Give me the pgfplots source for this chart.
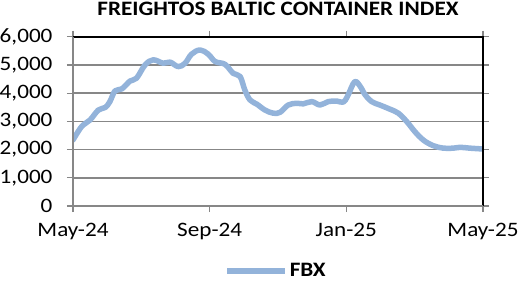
\documentclass[border=0pt]{standalone}
\usepackage{pgfplots}
\pgfplotsset{compat=1.18}
\usepackage{fontspec}
\setmainfont{Carlito}[FakeStretch=1.13]
\definecolor{fbx}{HTML}{93B3DA}
\definecolor{gridc}{HTML}{878787}
\begin{document}
\begin{tikzpicture}
\useasboundingbox (-73pt,-76pt) rectangle (447pt,206pt);
\begin{axis}[
  at={(0,0)}, anchor=south west,
  scale only axis, width=410pt, height=169.3pt,
  xmin=0, xmax=12, ymin=0, ymax=6000,
  xtick={0,4,8,12}, xticklabels={May-24,Sep-24,Jan-25,May-25},
  ytick={0,1000,2000,3000,4000,5000,6000},
  scaled y ticks=false,
  /pgf/number format/1000 sep={,},
  /pgf/number format/assume math mode=true,
  ymajorgrids, major grid style={draw=gridc, line width=1.5pt},
  axis line style={draw=none},
  tick align=outside, major tick length=6pt,
  tick style={draw=gridc, line width=1.2pt},
  ticklabel style={font=\fontsize{20.5}{24}\selectfont, text=black},
  yticklabel style={xshift=-11pt},
  xticklabel style={yshift=-8pt},
  title={\bfseries FREIGHTOS BALTIC CONTAINER INDEX},
  title style={font=\fontsize{20.5}{24}\selectfont, at={(0.5,1)}, anchor=south, yshift=12pt},
  legend style={at={(0.495,-0.383)}, anchor=center, draw=none, fill=none,
    font=\fontsize{20.5}{22}\selectfont\bfseries, inner sep=0pt},
  legend image code/.code={\draw[#1, line cap=butt] (0pt,0pt) -- (58pt,0pt);},
  after end axis/.code={
    \draw[black, line width=1.6pt] (rel axis cs:0,1) -- (rel axis cs:1,1) -- (rel axis cs:1,0);
    \draw[gridc, line width=1.6pt] (rel axis cs:0,1) -- (rel axis cs:0,0) -- (rel axis cs:1,0);
  },
]
\addplot[fbx, line width=5.5pt, smooth, tension=0.6, line cap=round, line join=round] coordinates {
(0.00,2340) (0.25,2810) (0.50,3050) (0.74,3400) (0.94,3490) (1.08,3700)
(1.23,4080) (1.43,4150) (1.67,4430) (1.86,4530) (2.11,5000) (2.35,5180)
(2.64,5060) (2.84,5100) (3.08,4940) (3.28,5060) (3.47,5380) (3.72,5530)
(3.96,5380) (4.16,5120) (4.45,5020) (4.69,4700) (4.89,4590) (5.03,4110)
(5.18,3760) (5.38,3610) (5.62,3400) (5.86,3290) (6.06,3320) (6.30,3580)
(6.55,3640) (6.74,3620) (6.99,3700) (7.23,3580) (7.47,3700) (7.72,3720)
(7.91,3680) (8.04,3900) (8.24,4400) (8.40,4250) (8.55,3940) (8.74,3700)
(8.98,3580) (9.28,3430) (9.52,3290) (9.77,2990) (10.01,2630) (10.25,2340)
(10.54,2140) (10.84,2050) (11.13,2050) (11.33,2080) (11.62,2050) (12.00,2020)
};
\addlegendentry{FBX}
\end{axis}
\end{tikzpicture}
\end{document}
